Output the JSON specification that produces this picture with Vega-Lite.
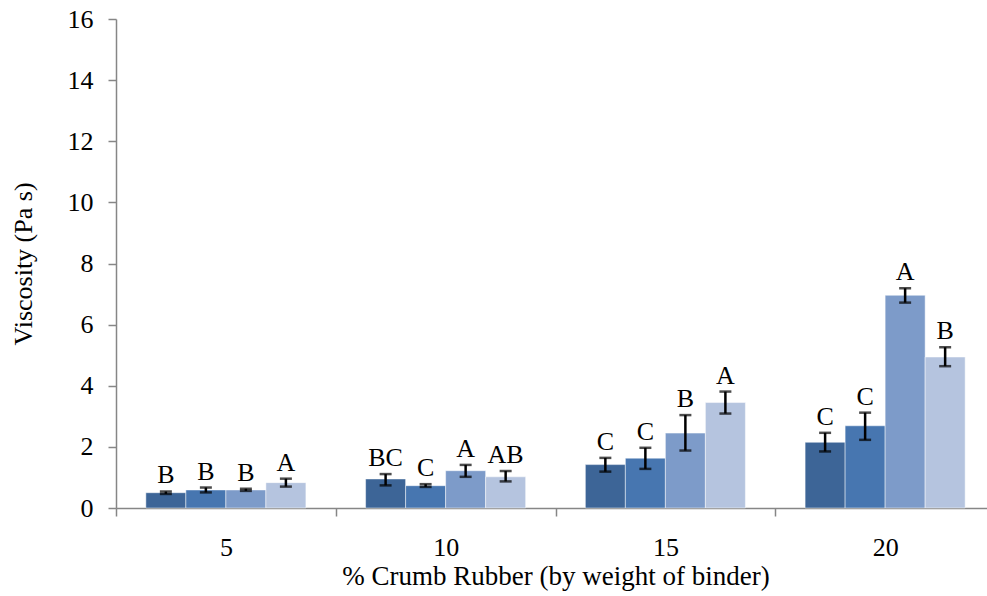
{
  "$schema": "https://vega.github.io/schema/vega-lite/v6.json",
  "width": 879,
  "height": 489,
  "autosize": {"type": "none"},
  "padding": {"left": 116, "top": 19, "right": 0, "bottom": 88},
  "background": "#ffffff",
  "config": {
    "view": {"stroke": null},
    "font": "Liberation Serif",
    "style": {
      "guide-label": {"font": "Liberation Serif", "fill": "#000000"},
      "guide-title": {"font": "Liberation Serif", "fill": "#000000", "fontWeight": "normal"}
    },
    "axis": {"labelFont": "Liberation Serif", "titleFont": "Liberation Serif", "labelColor": "#000000", "titleColor": "#000000", "titleFontWeight": "normal", "domainColor": "#868686", "tickColor": "#868686", "domainWidth": 1.5, "tickWidth": 1.5, "grid": false}
  },
  "data": {
    "values": [
      {"group": "5", "series": "S1", "mean": 0.50, "lo": 0.46, "hi": 0.54, "letter": "B"},
      {"group": "5", "series": "S2", "mean": 0.59, "lo": 0.51, "hi": 0.67, "letter": "B"},
      {"group": "5", "series": "S3", "mean": 0.59, "lo": 0.56, "hi": 0.63, "letter": "B"},
      {"group": "5", "series": "S4", "mean": 0.83, "lo": 0.70, "hi": 0.96, "letter": "A"},
      {"group": "10", "series": "S1", "mean": 0.95, "lo": 0.74, "hi": 1.11, "letter": "BC"},
      {"group": "10", "series": "S2", "mean": 0.73, "lo": 0.69, "hi": 0.78, "letter": "C"},
      {"group": "10", "series": "S3", "mean": 1.22, "lo": 1.02, "hi": 1.41, "letter": "A"},
      {"group": "10", "series": "S4", "mean": 1.02, "lo": 0.87, "hi": 1.21, "letter": "AB"},
      {"group": "15", "series": "S1", "mean": 1.42, "lo": 1.19, "hi": 1.64, "letter": "C"},
      {"group": "15", "series": "S2", "mean": 1.63, "lo": 1.28, "hi": 1.97, "letter": "C"},
      {"group": "15", "series": "S3", "mean": 2.45, "lo": 1.88, "hi": 3.04, "letter": "B"},
      {"group": "15", "series": "S4", "mean": 3.45, "lo": 3.09, "hi": 3.81, "letter": "A"},
      {"group": "20", "series": "S1", "mean": 2.15, "lo": 1.85, "hi": 2.46, "letter": "C"},
      {"group": "20", "series": "S2", "mean": 2.69, "lo": 2.23, "hi": 3.12, "letter": "C"},
      {"group": "20", "series": "S3", "mean": 6.96, "lo": 6.72, "hi": 7.19, "letter": "A"},
      {"group": "20", "series": "S4", "mean": 4.94, "lo": 4.64, "hi": 5.26, "letter": "B"}
    ]
  },
  "encoding": {
    "x": {
      "field": "group", "type": "nominal", "sort": ["5", "10", "15", "20"],
      "scale": {"paddingInner": 0, "paddingOuter": 0},
      "axis": {"title": "% Crumb Rubber (by weight of binder)", "labelFont": "Liberation Serif", "titleFont": "Liberation Serif", "labelColor": "#000000", "titleColor": "#000000", "titleFontWeight": "normal", "labelAngle": 0, "labelFontSize": 26, "titleFontSize": 27, "tickBand": "extent", "tickSize": 8, "labelPadding": 18, "titlePadding": 3}
    },
    "xOffset": {
      "field": "series", "type": "nominal", "sort": ["S1", "S2", "S3", "S4"],
      "scale": {"paddingInner": 0, "paddingOuter": 0.746}
    }
  },
  "layer": [
    {
      "mark": {"type": "bar", "stroke": "#ffffff", "strokeWidth": 0.8, "strokeOpacity": 0.6},
      "encoding": {
        "y": {
          "field": "mean", "type": "quantitative",
          "scale": {"domain": [0, 16], "nice": false},
          "axis": {"title": "Viscosity (Pa s)", "labelFont": "Liberation Serif", "titleFont": "Liberation Serif", "labelColor": "#000000", "titleColor": "#000000", "titleFontWeight": "normal", "values": [0, 2, 4, 6, 8, 10, 12, 14, 16], "labelFontSize": 26, "titleFontSize": 26, "tickSize": 8, "labelPadding": 15, "titlePadding": 31}
        },
        "color": {
          "field": "series", "type": "nominal",
          "scale": {"domain": ["S1", "S2", "S3", "S4"], "range": ["#3D6597", "#4776B0", "#7D9BC9", "#B5C4DF"]},
          "legend": null
        }
      }
    },
    {
      "mark": {"type": "rule", "color": "#000000", "strokeWidth": 2.5},
      "encoding": {
        "y": {"field": "lo", "type": "quantitative"},
        "y2": {"field": "hi"}
      }
    },
    {
      "mark": {"type": "tick", "color": "#000000", "orient": "horizontal", "size": 12, "thickness": 2.5},
      "encoding": {"y": {"field": "lo", "type": "quantitative"}}
    },
    {
      "mark": {"type": "tick", "color": "#000000", "orient": "horizontal", "size": 12, "thickness": 2.5},
      "encoding": {"y": {"field": "hi", "type": "quantitative"}}
    },
    {
      "mark": {"type": "text", "baseline": "alphabetic", "dy": -8, "fontSize": 26, "font": "Liberation Serif", "color": "#000000"},
      "encoding": {
        "y": {"field": "hi", "type": "quantitative"},
        "text": {"field": "letter"}
      }
    }
  ]
}
